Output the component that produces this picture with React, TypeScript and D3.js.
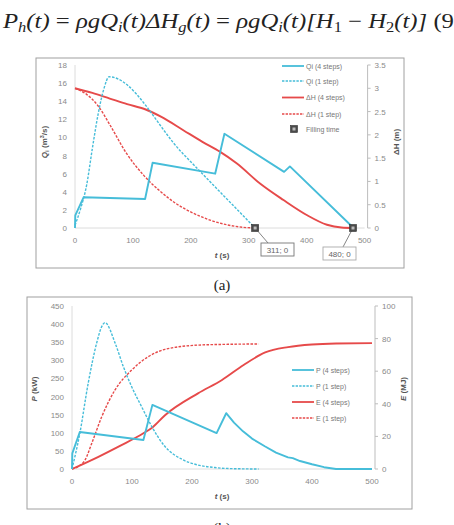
import * as d3 from "d3";

// Filling process (a): inflow Qi and head ΔH
const qi4T = [0, 0.5, 15, 121, 134, 242, 258, 361, 371, 481];
const qi4 = [0, 1.4, 3.4, 3.2, 7.2, 6.0, 10.4, 6.2, 6.8, 0];
const qi1T = [0, 10, 20, 30, 40, 50, 59, 185, 311];
const qi1 = [0.3, 2.2, 4.7, 8.8, 12.6, 15.4, 16.7, 8.3, 0];
const dh4T = [0, 30, 60, 90, 121, 150, 187, 220, 250, 279, 320, 360, 400, 435, 460, 481];
const dh4 = [3.0, 2.9, 2.78, 2.66, 2.55, 2.38, 2.1, 1.85, 1.64, 1.39, 0.95, 0.6, 0.28, 0.07, 0.01, 0];
const dh1T = [0, 20, 40, 60, 89, 118, 146, 175, 204, 233, 262, 290, 311];
const dh1 = [3.0, 2.87, 2.62, 2.22, 1.6, 1.14, 0.8, 0.52, 0.32, 0.17, 0.07, 0.015, 0];
const fillT = [311, 480];

// (b): hydraulic power P and energy E
const p4T = [0, 0.5, 13, 119, 134, 241, 257, 270, 285, 300, 322, 340, 360, 368, 380, 400, 420, 440, 500];
const p4 = [0, 43, 102, 80, 177, 99, 154, 128, 104, 84, 62, 45, 32, 30, 22, 13, 5, 0, 0];
const p1T = [0, 13, 27, 41, 49.5, 55, 72, 85.5, 99.5, 116, 133, 155, 183, 210, 238, 266, 311];
const p1 = [0, 98, 237, 347, 393, 404, 347, 283, 227, 172, 117, 62, 27, 11, 4, 1, 0];
const e4T = [0, 44, 80, 119, 134, 155, 210, 250, 286, 322, 360, 400, 440, 500];
const e4 = [0, 7.5, 14.2, 21.9, 25.5, 33, 46.4, 54.6, 63.8, 71.5, 74.8, 76.4, 77, 77.2];
const e1T = [0, 10, 21.7, 33, 49.5, 71.7, 99.5, 127, 155, 210, 260, 311];
const e1 = [0, 1.5, 5.5, 15.8, 32, 48.5, 60.7, 68.9, 73.4, 76, 76.5, 76.7];

const xTicks = [0, 100, 200, 300, 400, 500];
const qTicks = d3.range(0, 19, 2);
const hTicks = d3.range(0, 3.51, 0.5);
const pTicks = d3.range(0, 451, 50);
const eTicks = d3.range(0, 101, 20);

const CYAN = "#46bdd9";
const RED = "#e64a4a";
const TICK = "#8a8a8a";
const FONT = "Liberation Sans, Arial, sans-serif";

type Pt = [number, number];
const zip = (t: number[], v: number[]): Pt[] => t.map((d, i) => [d, v[i]]);

function Series({ pts, x, y, color, dashed, smooth, width }: {
  pts: Pt[]; x: d3.ScaleLinear<number, number>; y: d3.ScaleLinear<number, number>;
  color: string; dashed?: boolean; smooth?: boolean; width?: number;
}) {
  const gen = d3.line<Pt>().x((d) => x(d[0])).y((d) => y(d[1]))
    .curve(smooth ? d3.curveMonotoneX : d3.curveLinear);
  return (
    <path d={gen(pts) ?? ""} fill="none" stroke={color}
      strokeWidth={width ?? (dashed ? 1.4 : 1.9)}
      strokeDasharray={dashed ? "2.6,1.4" : undefined} strokeLinejoin="round" />
  );
}

function Axes({ x, yL, yR, yLTicks, yRTicks }: {
  x: d3.ScaleLinear<number, number>; yL: d3.ScaleLinear<number, number>;
  yR: d3.ScaleLinear<number, number>; yLTicks: number[]; yRTicks: number[];
}) {
  const [x0, x1] = x.range();
  const [yb, yt] = yL.range();
  return (
    <g fontFamily={FONT} fontSize={8} fill={TICK}>
      <line x1={x0} x2={x0} y1={yb} y2={yt} stroke="#dcdcdc" />
      <line x1={x0} x2={x1} y1={yb} y2={yb} stroke="#dcdcdc" />
      <line x1={x1 + 3} x2={x1 + 3} y1={yb} y2={yt} stroke="#bdbdbd" />
      {yLTicks.map((v) => (
        <text key={"l" + v} x={x0 - 8} y={yL(v) + 3} textAnchor="end">{v}</text>
      ))}
      {yRTicks.map((v) => (
        <g key={"r" + v}>
          <line x1={x1 + 3} x2={x1 + 6} y1={yR(v)} y2={yR(v)} stroke="#bdbdbd" />
          <text x={x1 + 10} y={yR(v) + 3}>{v}</text>
        </g>
      ))}
      {xTicks.map((v) => (
        <text key={"x" + v} x={x(v)} y={yb + 15} textAnchor="middle">{v}</text>
      ))}
    </g>
  );
}

function Marker({ cx, cy }: { cx: number; cy: number }) {
  return (
    <g>
      <rect x={cx - 3.5} y={cy - 3.5} width={7} height={7} fill="#4a4a4a" stroke="#333" strokeWidth={0.6} />
      <rect x={cx - 1.5} y={cy - 1.5} width={3} height={3} fill="#bbb" />
    </g>
  );
}

function LegendRow({ x, y, color, dashed, label }: {
  x: number; y: number; color: string; dashed?: boolean; label: string;
}) {
  return (
    <g>
      <line x1={x} x2={x + 22} y1={y} y2={y} stroke={color}
        strokeWidth={dashed ? 1.3 : 1.8} strokeDasharray={dashed ? "2.4,1.2" : undefined} />
      <text x={x + 24} y={y + 2.5} fontFamily={FONT} fontSize={7} fill="#777">{label}</text>
    </g>
  );
}

function ChartA() {
  const x = d3.scaleLinear().domain([0, 500]).range([75, 364.6]);
  const yL = d3.scaleLinear().domain([0, 18]).range([228, 65]);
  const yR = d3.scaleLinear().domain([0, 3.5]).range([228, 65]);
  const ann = [
    { t: fillT[0], label: "311; 0", bx: 261, by: 243, lx: 268, stroke: "#777" },
    { t: fillT[1], label: "480; 0", bx: 323, by: 247, lx: 343, stroke: "#aaa" },
  ];
  return (
    <g>
      <rect x={36} y={58} width={368} height={210} fill="none" stroke="#a0a0a0" />
      <Axes x={x} yL={yL} yR={yR} yLTicks={qTicks} yRTicks={hTicks} />
      <text transform="translate(47,142) rotate(-90)" textAnchor="middle" fontFamily={FONT}
        fontSize={8} fontWeight="bold" fill="#555">
        <tspan fontStyle="italic">Q</tspan><tspan fontSize={6} dy={1.5}>i</tspan>
        <tspan dy={-1.5}> (m</tspan><tspan fontSize={5.5} dy={-3}>3</tspan><tspan dy={3}>/s)</tspan>
      </text>
      <text transform="translate(399,142) rotate(-90)" textAnchor="middle" fontFamily={FONT}
        fontSize={8} fontWeight="bold" fill="#555">ΔH (m)</text>
      <text x={222} y={258} textAnchor="middle" fontFamily={FONT} fontSize={8}
        fontWeight="bold" fill="#555"><tspan fontStyle="italic">t</tspan> (s)</text>

      <Series pts={zip(dh1T, dh1)} x={x} y={yR} color={RED} dashed smooth />
      <Series pts={zip(dh4T, dh4)} x={x} y={yR} color={RED} smooth />
      <Series pts={zip(qi1T, qi1)} x={x} y={yL} color={CYAN} dashed smooth />
      <Series pts={zip(qi4T, qi4)} x={x} y={yL} color={CYAN} />

      {ann.map((a) => (
        <g key={a.label}>
          <polyline points={`${x(a.t)},${yL(0)} ${a.lx},${a.by}`} fill="none" stroke="#666" strokeWidth={0.8} />
          <rect x={a.bx} y={a.by} width={33} height={13} fill="#fff" stroke={a.stroke} strokeWidth={0.9} />
          <text x={a.bx + 16.5} y={a.by + 9.5} textAnchor="middle" fontFamily={FONT} fontSize={8} fill="#666">{a.label}</text>
          <Marker cx={x(a.t)} cy={yL(0)} />
        </g>
      ))}

      <LegendRow x={282} y={66} color={CYAN} label="Qi (4 steps)" />
      <LegendRow x={282} y={81} color={CYAN} dashed label="Qi (1 step)" />
      <LegendRow x={282} y={97.5} color={RED} label="ΔH (4 steps)" />
      <LegendRow x={282} y={114} color={RED} dashed label="ΔH (1 step)" />
      <Marker cx={294} cy={129} />
      <text x={306} y={131.5} fontFamily={FONT} fontSize={7} fill="#777">Filling time</text>
    </g>
  );
}

function ChartB() {
  const x = d3.scaleLinear().domain([0, 500]).range([72, 372]);
  const yL = d3.scaleLinear().domain([0, 450]).range([469, 306]);
  const yR = d3.scaleLinear().domain([0, 100]).range([469, 306]);
  return (
    <g>
      <rect x={27} y={297} width={385} height={212} fill="none" stroke="#a0a0a0" />
      <Axes x={x} yL={yL} yR={yR} yLTicks={pTicks} yRTicks={eTicks} />
      <text transform="translate(37,389) rotate(-90)" textAnchor="middle" fontFamily={FONT}
        fontSize={8} fontWeight="bold" fill="#555"><tspan fontStyle="italic">P</tspan> (kW)</text>
      <text transform="translate(406,389) rotate(-90)" textAnchor="middle" fontFamily={FONT}
        fontSize={8} fontWeight="bold" fill="#555"><tspan fontStyle="italic">E</tspan> (MJ)</text>
      <text x={222} y={499} textAnchor="middle" fontFamily={FONT} fontSize={8}
        fontWeight="bold" fill="#555"><tspan fontStyle="italic">t</tspan> (s)</text>

      <Series pts={zip(e1T, e1)} x={x} y={yR} color={RED} dashed smooth />
      <Series pts={zip(e4T, e4)} x={x} y={yR} color={RED} smooth />
      <Series pts={zip(p1T, p1)} x={x} y={yL} color={CYAN} dashed smooth />
      <Series pts={zip(p4T, p4)} x={x} y={yL} color={CYAN} />

      <LegendRow x={292} y={370} color={CYAN} label="P (4 steps)" />
      <LegendRow x={292} y={386} color={CYAN} dashed label="P (1 step)" />
      <LegendRow x={292} y={402} color={RED} label="E (4 steps)" />
      <LegendRow x={292} y={418} color={RED} dashed label="E (1 step)" />
    </g>
  );
}

// Eq. (9): one run of text squeezed to the column width
function Equation() {
  const sub = { fontSize: 14, dy: 4 };
  const up = { dy: -4 };
  return (
    <text x={3} y={28} textLength={451} lengthAdjust="spacingAndGlyphs"
      fontFamily="Liberation Serif, serif" fontStyle="italic" fontSize={21} fill="#222"
      style={{ whiteSpace: "pre" }}>
      P<tspan {...sub}>h</tspan><tspan {...up}>(t) </tspan>
      <tspan fontStyle="normal">= </tspan>
      ρgQ<tspan {...sub}>i</tspan><tspan {...up}>(t)ΔH</tspan><tspan {...sub}>g</tspan><tspan {...up}>(t) </tspan>
      <tspan fontStyle="normal">= </tspan>
      ρgQ<tspan {...sub}>i</tspan><tspan {...up}>(t)[H</tspan><tspan {...sub} fontStyle="normal">1</tspan>
      <tspan {...up} fontStyle="normal"> − </tspan>
      H<tspan {...sub} fontStyle="normal">2</tspan><tspan {...up}>(t)] </tspan>
      <tspan fontStyle="normal">(9</tspan>
    </text>
  );
}

export default function App() {
  return (
    <svg width={454} height={525} style={{ position: "absolute", left: 0, top: 0, background: "#fff" }}>
      <Equation />
      <ChartA />
      <text x={222} y={290} textAnchor="middle" fontFamily="Liberation Serif, serif" fontSize={15} fill="#222">(a)</text>
      <ChartB />
      <text x={222} y={533} textAnchor="middle" fontFamily="Liberation Serif, serif" fontSize={15} fill="#222">(b)</text>
    </svg>
  );
}
